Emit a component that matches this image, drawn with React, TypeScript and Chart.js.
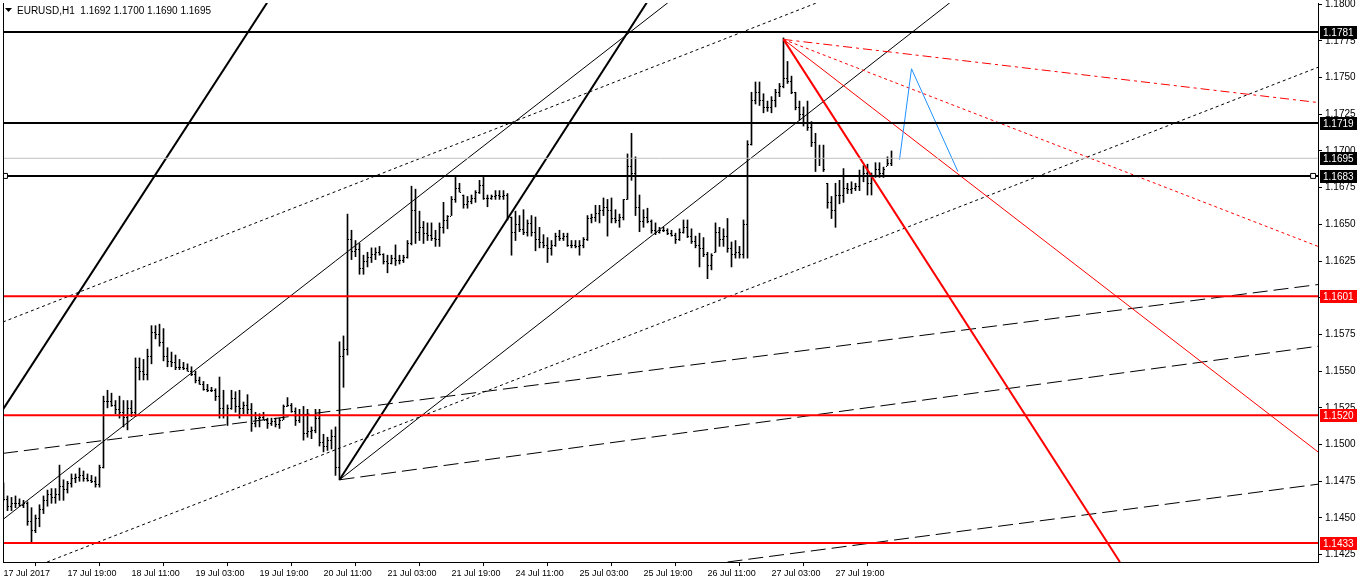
import React, { useEffect, useRef } from 'react';
import { Chart, registerables } from 'chart.js';

Chart.register(...registerables);

const symbolName = 'EURUSD,H1';
const FONT = '"Liberation Sans", Arial, sans-serif';

const timeLabels = ['17 Jul 2017', '17 Jul 19:00', '18 Jul 11:00', '19 Jul 03:00', '19 Jul 19:00', '20 Jul 11:00', '21 Jul 03:00', '21 Jul 19:00', '24 Jul 11:00', '25 Jul 03:00', '25 Jul 19:00', '26 Jul 11:00', '27 Jul 03:00', '27 Jul 19:00'];
const timeLabelBars = [0, 16, 32, 48, 64, 80, 96, 112, 128, 144, 160, 176, 192, 208];
const priceTicks = [1.1425, 1.145, 1.1475, 1.15, 1.1525, 1.155, 1.1575, 1.16, 1.1625, 1.165, 1.1675, 1.17, 1.1725, 1.175, 1.1775, 1.18];

const xMin = -0.125;
const xMax = 328.625;
const yMin = 1.142;
const yMax = 1.18008;

const opens = [
  1.1470, 1.1463, 1.1458, 1.1460, 1.1460, 1.1459, 1.1460, 1.1448, 1.1442, 1.1450,
  1.1456, 1.1462, 1.1466, 1.1464, 1.1466, 1.1472, 1.1470, 1.1474, 1.1477, 1.1478,
  1.1479, 1.1477, 1.1476, 1.1475, 1.1473, 1.1485, 1.1530, 1.1530, 1.1527, 1.1524,
  1.1522, 1.1519, 1.1525, 1.1522, 1.1553, 1.1550, 1.1548, 1.1560, 1.1577, 1.1575,
  1.1570, 1.1560, 1.1557, 1.1556, 1.1553, 1.1553, 1.1552, 1.1550, 1.1548, 1.1544,
  1.1541, 1.1538, 1.1537, 1.1537, 1.1533, 1.1525, 1.1520, 1.1525, 1.1532, 1.1526,
  1.1525, 1.1527, 1.1524, 1.1515, 1.1518, 1.1519, 1.1517, 1.1515, 1.1516, 1.1514,
  1.1517, 1.1526, 1.1527, 1.1523, 1.1517, 1.1520, 1.1508, 1.1509, 1.1510, 1.1518,
  1.1502, 1.1499, 1.1503, 1.1506, 1.1485, 1.1560, 1.1565, 1.1640, 1.1632, 1.1633,
  1.1620, 1.1625, 1.1628, 1.1630, 1.1631, 1.1630, 1.1625, 1.1624, 1.1627, 1.1626,
  1.1626, 1.1628, 1.1637, 1.1660, 1.1645, 1.1648, 1.1644, 1.1643, 1.1641, 1.1640,
  1.1648, 1.1653, 1.1656, 1.1667, 1.1675, 1.1670, 1.1664, 1.1666, 1.1668, 1.1672,
  1.1677, 1.1668, 1.1668, 1.1669, 1.1670, 1.1669, 1.1670, 1.1655, 1.1645, 1.1650,
  1.1647, 1.1645, 1.1651, 1.1645, 1.1640, 1.1638, 1.1636, 1.1634, 1.1636, 1.1642,
  1.1641, 1.1642, 1.1636, 1.1636, 1.1635, 1.1636, 1.1640, 1.1654, 1.1655, 1.1658,
  1.1660, 1.1662, 1.1660, 1.1654, 1.1653, 1.1655, 1.1667, 1.1690, 1.1685, 1.1662,
  1.1652, 1.1655, 1.1652, 1.1646, 1.1645, 1.1646, 1.1646, 1.1644, 1.1643, 1.1640,
  1.1645, 1.1648, 1.1642, 1.1639, 1.1636, 1.1634, 1.1630, 1.1622, 1.1631, 1.1645,
  1.1640, 1.1642, 1.1634, 1.1630, 1.1631, 1.1630, 1.1650, 1.1705, 1.1735, 1.1740,
  1.1735, 1.1730, 1.1730, 1.1735, 1.1740, 1.1744, 1.1750, 1.1748, 1.1740, 1.1730,
  1.1725, 1.1720, 1.1716, 1.1706, 1.1695, 1.1695, 1.1678, 1.1665, 1.1660, 1.1670,
  1.1670, 1.1675, 1.1674, 1.1675, 1.1676, 1.1683, 1.1685, 1.1678, 1.1683, 1.1688,
  1.1685, 1.1690, 1.1692,
];

const highs = [
  1.1474, 1.1465, 1.1464, 1.1465, 1.1463, 1.1462, 1.1461, 1.1457, 1.1452, 1.1459,
  1.1465, 1.1469, 1.1470, 1.1470, 1.1486, 1.1476, 1.1475, 1.1480, 1.1480, 1.1484,
  1.1482, 1.1480, 1.1479, 1.1478, 1.1486, 1.1533, 1.1537, 1.1535, 1.1530, 1.1533,
  1.1530, 1.1530, 1.1530, 1.1559, 1.1559, 1.1558, 1.1565, 1.1581, 1.1581, 1.1582,
  1.1579, 1.1566, 1.1563, 1.1561, 1.1558, 1.1556, 1.1555, 1.1553, 1.1550, 1.1546,
  1.1543, 1.1541, 1.1539, 1.1538, 1.1546, 1.1537, 1.1527, 1.1537, 1.1536, 1.1537,
  1.1529, 1.1534, 1.1528, 1.1522, 1.1521, 1.1522, 1.1518, 1.1518, 1.1518, 1.1518,
  1.1527, 1.1532, 1.1528, 1.1525, 1.1524, 1.1526, 1.1524, 1.1512, 1.1524, 1.1524,
  1.1507, 1.1505, 1.1510, 1.1512, 1.1570, 1.1574, 1.1657, 1.1646, 1.1639, 1.1637,
  1.1629, 1.1631, 1.1634, 1.1634, 1.1635, 1.1630, 1.1629, 1.1629, 1.1636, 1.1629,
  1.1629, 1.1639, 1.1676, 1.1674, 1.1659, 1.1652, 1.1651, 1.1651, 1.1646, 1.1651,
  1.1665, 1.1656, 1.1669, 1.1682, 1.1678, 1.1670, 1.1669, 1.1670, 1.1673, 1.1680,
  1.1682, 1.1670, 1.1670, 1.1673, 1.1673, 1.1673, 1.1671, 1.1655, 1.1659, 1.1656,
  1.1660, 1.1653, 1.1656, 1.1655, 1.1648, 1.1643, 1.1641, 1.1639, 1.1644, 1.1646,
  1.1644, 1.1644, 1.1639, 1.1639, 1.1639, 1.1641, 1.1656, 1.1657, 1.1663, 1.1663,
  1.1668, 1.1667, 1.1668, 1.1660, 1.1657, 1.1667, 1.1698, 1.1712, 1.1696, 1.1670,
  1.1660, 1.1661, 1.1653, 1.1651, 1.1648, 1.1648, 1.1647, 1.1646, 1.1644, 1.1647,
  1.1653, 1.1653, 1.1647, 1.1642, 1.1644, 1.1641, 1.1631, 1.1630, 1.1651, 1.1648,
  1.1647, 1.1654, 1.1638, 1.1639, 1.1635, 1.1653, 1.1707, 1.1740, 1.1747, 1.1747,
  1.1739, 1.1734, 1.1737, 1.1742, 1.1746, 1.1777, 1.1761, 1.1751, 1.1740, 1.1734,
  1.1730, 1.1734, 1.1720, 1.1712, 1.1704, 1.1704, 1.1678, 1.1669, 1.1678, 1.1680,
  1.1688, 1.1678, 1.1679, 1.1678, 1.1687, 1.1690, 1.1691, 1.1685, 1.1692, 1.1692,
  1.1689, 1.1696, 1.1700,
];

const lows = [
  1.1462, 1.1455, 1.1455, 1.1457, 1.1458, 1.1457, 1.1445, 1.1433, 1.1440, 1.1444,
  1.1453, 1.1458, 1.1460, 1.1460, 1.1462, 1.1462, 1.1467, 1.1471, 1.1474, 1.1475,
  1.1475, 1.1475, 1.1474, 1.1471, 1.1471, 1.1484, 1.1525, 1.1526, 1.1521, 1.1518,
  1.1512, 1.1510, 1.1519, 1.1519, 1.1544, 1.1544, 1.1544, 1.1555, 1.1572, 1.1567,
  1.1557, 1.1553, 1.1553, 1.1551, 1.1551, 1.1551, 1.1550, 1.1547, 1.1542, 1.1541,
  1.1537, 1.1536, 1.1536, 1.1530, 1.1518, 1.1518, 1.1513, 1.1524, 1.1522, 1.1518,
  1.1521, 1.1521, 1.1509, 1.1512, 1.1512, 1.1517, 1.1511, 1.1513, 1.1512, 1.1511,
  1.1517, 1.1526, 1.1522, 1.1513, 1.1515, 1.1503, 1.1505, 1.1504, 1.1508, 1.1499,
  1.1495, 1.1496, 1.1497, 1.1479, 1.1476, 1.1539, 1.1561, 1.1626, 1.1628, 1.1616,
  1.1616, 1.1621, 1.1624, 1.1626, 1.1629, 1.1623, 1.1617, 1.1623, 1.1622, 1.1623,
  1.1624, 1.1627, 1.1636, 1.1637, 1.1639, 1.1637, 1.1639, 1.1639, 1.1635, 1.1635,
  1.1644, 1.1647, 1.1656, 1.1665, 1.1672, 1.1661, 1.1661, 1.1664, 1.1665, 1.1671,
  1.1667, 1.1662, 1.1667, 1.1667, 1.1667, 1.1667, 1.1653, 1.1629, 1.1639, 1.1645,
  1.1643, 1.1642, 1.1642, 1.1632, 1.1634, 1.1634, 1.1624, 1.1629, 1.1635, 1.1639,
  1.1639, 1.1635, 1.1634, 1.1634, 1.1629, 1.1634, 1.1639, 1.1651, 1.1652, 1.1651,
  1.1656, 1.1642, 1.1651, 1.1651, 1.1648, 1.1653, 1.1667, 1.1680, 1.1656, 1.1645,
  1.1648, 1.1651, 1.1644, 1.1643, 1.1644, 1.1645, 1.1643, 1.1642, 1.1637, 1.1639,
  1.1644, 1.1641, 1.1637, 1.1634, 1.1621, 1.1628, 1.1613, 1.1619, 1.1631, 1.1635,
  1.1635, 1.1631, 1.1621, 1.1627, 1.1627, 1.1627, 1.1627, 1.1704, 1.1732, 1.1731,
  1.1726, 1.1727, 1.1726, 1.1730, 1.1737, 1.1743, 1.1746, 1.1739, 1.1728, 1.1721,
  1.1717, 1.1714, 1.1703, 1.1686, 1.1690, 1.1686, 1.1661, 1.1654, 1.1648, 1.1664,
  1.1665, 1.1671, 1.1671, 1.1673, 1.1673, 1.1679, 1.1670, 1.1670, 1.1682, 1.1682,
  1.1682, 1.1690, 1.1690,
];

const closes = [
  1.1463, 1.1458, 1.1460, 1.1460, 1.1459, 1.1460, 1.1448, 1.1442, 1.1450, 1.1456,
  1.1462, 1.1466, 1.1464, 1.1466, 1.1472, 1.1470, 1.1474, 1.1477, 1.1478, 1.1479,
  1.1477, 1.1476, 1.1475, 1.1473, 1.1485, 1.1530, 1.1530, 1.1527, 1.1524, 1.1522,
  1.1519, 1.1525, 1.1522, 1.1553, 1.1550, 1.1548, 1.1560, 1.1577, 1.1575, 1.1570,
  1.1560, 1.1557, 1.1556, 1.1553, 1.1553, 1.1552, 1.1550, 1.1548, 1.1544, 1.1541,
  1.1538, 1.1537, 1.1537, 1.1533, 1.1525, 1.1520, 1.1525, 1.1532, 1.1526, 1.1525,
  1.1527, 1.1524, 1.1515, 1.1518, 1.1519, 1.1517, 1.1515, 1.1516, 1.1514, 1.1517,
  1.1526, 1.1527, 1.1523, 1.1517, 1.1520, 1.1508, 1.1509, 1.1510, 1.1518, 1.1502,
  1.1499, 1.1503, 1.1506, 1.1485, 1.1560, 1.1565, 1.1640, 1.1632, 1.1633, 1.1620,
  1.1625, 1.1628, 1.1630, 1.1631, 1.1630, 1.1625, 1.1624, 1.1627, 1.1626, 1.1626,
  1.1628, 1.1637, 1.1660, 1.1645, 1.1648, 1.1644, 1.1643, 1.1641, 1.1640, 1.1648,
  1.1653, 1.1656, 1.1667, 1.1675, 1.1672, 1.1664, 1.1666, 1.1668, 1.1672, 1.1677,
  1.1668, 1.1668, 1.1669, 1.1670, 1.1669, 1.1670, 1.1655, 1.1645, 1.1650, 1.1647,
  1.1645, 1.1651, 1.1645, 1.1640, 1.1638, 1.1636, 1.1634, 1.1636, 1.1642, 1.1641,
  1.1642, 1.1636, 1.1636, 1.1635, 1.1636, 1.1640, 1.1654, 1.1655, 1.1658, 1.1660,
  1.1662, 1.1660, 1.1654, 1.1653, 1.1655, 1.1667, 1.1690, 1.1685, 1.1662, 1.1652,
  1.1655, 1.1652, 1.1646, 1.1645, 1.1646, 1.1646, 1.1644, 1.1643, 1.1640, 1.1645,
  1.1648, 1.1642, 1.1639, 1.1636, 1.1634, 1.1630, 1.1622, 1.1629, 1.1645, 1.1640,
  1.1642, 1.1634, 1.1630, 1.1631, 1.1630, 1.1650, 1.1705, 1.1735, 1.1740, 1.1735,
  1.1730, 1.1730, 1.1735, 1.1740, 1.1744, 1.1750, 1.1748, 1.1740, 1.1730, 1.1725,
  1.1720, 1.1716, 1.1706, 1.1695, 1.1695, 1.1688, 1.1665, 1.1660, 1.1670, 1.1670,
  1.1675, 1.1674, 1.1675, 1.1676, 1.1683, 1.1685, 1.1678, 1.1683, 1.1688, 1.1685,
  1.1688, 1.1692, 1.1695,
];

// horizontal levels
const levelValues = [1.1781, 1.1719, 1.1695, 1.1683, 1.1601, 1.152, 1.1433];
const levelLineColors = ['#000000', '#000000', '#c0c0c0', '#000000', '#ff0000', '#ff0000', '#ff0000'];
const levelLineWidths = [2, 2, 1, 2, 2, 2, 2];
const levelBoxColors = ['#000000', '#000000', '#000000', '#000000', '#ff0000', '#ff0000', '#ff0000'];
const selectedLevelHandles = [{ x: 0.375, y: 1.1683 }, { x: 327.4, y: 1.1683 }];

// trend lines (bar index, price)
const channelThick1 = [{ x: -0.125, y: 1.1524 }, { x: 65.9, y: 1.1801 }];
const channelThick2 = [{ x: 84, y: 1.1476 }, { x: 160.8, y: 1.1801 }];
const channelThin1 = [{ x: -0.125, y: 1.1449 }, { x: 166.1, y: 1.1801 }];
const channelThin2 = [{ x: 84, y: 1.1476 }, { x: 236.6, y: 1.1801 }];
const dotLine1 = [{ x: -0.125, y: 1.15835 }, { x: 203.4, y: 1.1801 }];
const dotLine2 = [{ x: 10.9, y: 1.142 }, { x: 328.625, y: 1.1757 }];
const dashLine1 = [{ x: -0.125, y: 1.1494 }, { x: 328.625, y: 1.1609 }];
const dashLine2 = [{ x: 84, y: 1.1476 }, { x: 328.625, y: 1.1567 }];
const dashLine3 = [{ x: 181, y: 1.142 }, { x: 328.625, y: 1.1473 }];
const redThick = [{ x: 195, y: 1.1776 }, { x: 279.1, y: 1.142 }];
const redThin = [{ x: 195, y: 1.1776 }, { x: 328.625, y: 1.1495 }];
const redDotted = [{ x: 195, y: 1.1776 }, { x: 328.625, y: 1.1635 }];
const redDashDot = [{ x: 195, y: 1.1776 }, { x: 328.625, y: 1.1733 }];
const blueWave = [{ x: 224, y: 1.1694 }, { x: 227, y: 1.1756 }, { x: 238.6, y: 1.1686 }];

function lineDs(points: any[], color: string, width: number, dash: number[] = []) {
  return {
    type: 'line',
    data: points,
    borderColor: color,
    borderWidth: width,
    borderDash: dash,
    pointRadius: 0,
    fill: false,
    tension: 0,
  };
}

const ohlcTicksPlugin = {
  id: 'ohlcTicks',
  beforeDatasetsDraw(chart: any) {
    const { ctx, chartArea, scales } = chart;
    const x = scales.x;
    const y = scales.y;
    ctx.save();
    ctx.beginPath();
    ctx.rect(chartArea.left, chartArea.top, chartArea.right - chartArea.left, chartArea.bottom - chartArea.top);
    ctx.clip();
    ctx.fillStyle = '#000';
    for (let i = 0; i < opens.length; i++) {
      const px = Math.floor(x.getPixelForValue(i));
      const oy = Math.round(y.getPixelForValue(opens[i]));
      const cy = Math.round(y.getPixelForValue(closes[i]));
      ctx.fillRect(px - 1, oy, 1, 1);
      ctx.fillRect(px + 1, cy, 1, 1);
    }
    ctx.restore();
  },
};

const decorPlugin = {
  id: 'decor',
  afterDraw(chart: any) {
    const { ctx, chartArea, scales } = chart;
    const y = scales.y;
    ctx.save();
    // left frame
    ctx.fillStyle = '#000';
    ctx.fillRect(chartArea.left, chartArea.top, 1, chartArea.bottom - chartArea.top);
    // level price boxes
    ctx.font = '10px ' + FONT;
    ctx.textBaseline = 'middle';
    ctx.textAlign = 'left';
    levelValues.forEach((v, k) => {
      const py = Math.round(y.getPixelForValue(v));
      ctx.fillStyle = levelBoxColors[k];
      ctx.fillRect(chartArea.right + 2, py - 6, 37, 13);
      ctx.fillStyle = '#ffffff';
      ctx.fillText(v.toFixed(4), chartArea.right + 5, py + 1);
    });
    // title
    const last = opens.length - 1;
    ctx.fillStyle = '#000';
    ctx.beginPath();
    ctx.moveTo(5, 8);
    ctx.lineTo(12, 8);
    ctx.lineTo(8.5, 12);
    ctx.closePath();
    ctx.fill();
    ctx.font = '10px ' + FONT;
    ctx.fillText(
      `${symbolName}  ${opens[last].toFixed(4)} ${highs[last].toFixed(4)} ${lows[last].toFixed(4)} ${closes[last].toFixed(4)}`,
      17,
      11
    );
    ctx.restore();
  },
};

export default function App() {
  const ref = useRef<HTMLCanvasElement>(null);
  useEffect(() => {
    document.body.style.margin = '0';
    const levelDatasets = levelValues.map((v, k) =>
      lineDs([{ x: xMin, y: v }, { x: xMax, y: v }], levelLineColors[k], levelLineWidths[k])
    );
    const datasets: any[] = [
      {
        type: 'line',
        data: selectedLevelHandles,
        showLine: false,
        pointStyle: 'rect',
        pointRadius: 3.5,
        pointBackgroundColor: '#ffffff',
        pointBorderColor: '#000000',
        pointBorderWidth: 1,
      },
      ...levelDatasets,
      lineDs(blueWave, '#1e90ff', 1),
      lineDs(redThick, '#ff0000', 2),
      lineDs(redThin, '#ff0000', 1),
      lineDs(redDotted, '#ff0000', 1, [3, 3]),
      lineDs(redDashDot, '#ff0000', 1, [9, 4, 3, 4]),
      lineDs(channelThick1, '#000000', 2),
      lineDs(channelThick2, '#000000', 2),
      lineDs(channelThin1, '#000000', 1),
      lineDs(channelThin2, '#000000', 1),
      lineDs(dotLine1, '#000000', 1, [3, 3]),
      lineDs(dotLine2, '#000000', 1, [3, 3]),
      lineDs(dashLine1, '#000000', 1, [15, 6]),
      lineDs(dashLine2, '#000000', 1, [15, 6]),
      lineDs(dashLine3, '#000000', 1, [15, 6]),
      {
        type: 'bar',
        data: highs.map((h, i) => ({ x: i, y: [lows[i], h] })),
        backgroundColor: '#000000',
        borderWidth: 0,
        barThickness: 1,
        minBarLength: 1,
        grouped: false,
      },
    ];
    const chart = new Chart(ref.current as HTMLCanvasElement, {
      type: 'line',
      data: { datasets },
      options: {
        animation: false,
        responsive: false,
        devicePixelRatio: 1,
        events: [],
        layout: { padding: { top: 3, left: 3, right: 0, bottom: 0 }, autoPadding: false },
        plugins: { legend: { display: false }, tooltip: { enabled: false }, title: { display: false } },
        scales: {
          x: {
            type: 'linear',
            min: xMin,
            max: xMax,
            offset: false,
            grid: { display: true, drawOnChartArea: false, drawTicks: true, tickLength: 4, color: '#000' },
            border: { display: true, color: '#000', width: 1 },
            afterBuildTicks: (s: any) => {
              s.ticks = timeLabelBars.map((v) => ({ value: v }));
            },
            afterFit: (s: any) => {
              s.height = 22;
              s.paddingLeft = 0;
              s.paddingRight = 0;
            },
            ticks: {
              autoSkip: false,
              maxRotation: 0,
              minRotation: 0,
              align: 'start',
              padding: 2,
              color: '#000',
              font: { family: FONT, size: 9 },
              callback: (v: any) => {
                const k = timeLabelBars.indexOf(Number(v));
                return k >= 0 ? timeLabels[k] : '';
              },
            },
          },
          y: {
            type: 'linear',
            position: 'right',
            min: yMin,
            max: yMax,
            grid: { display: true, drawOnChartArea: false, drawTicks: true, tickLength: 4, color: '#000' },
            border: { display: true, color: '#000', width: 1 },
            afterBuildTicks: (s: any) => {
              s.ticks = priceTicks.map((v) => ({ value: v }));
            },
            afterFit: (s: any) => {
              s.width = 40;
              s.paddingTop = 0;
              s.paddingBottom = 0;
            },
            ticks: {
              padding: 3,
              color: '#000',
              font: { family: FONT, size: 10 },
              callback: (v: any) => Number(v).toFixed(4),
            },
          },
        },
      },
      plugins: [ohlcTicksPlugin, decorPlugin],
    } as any);
    return () => chart.destroy();
  }, []);
  return <canvas ref={ref} width={1358} height={584} style={{ display: 'block', width: 1358, height: 584 }} />;
}
